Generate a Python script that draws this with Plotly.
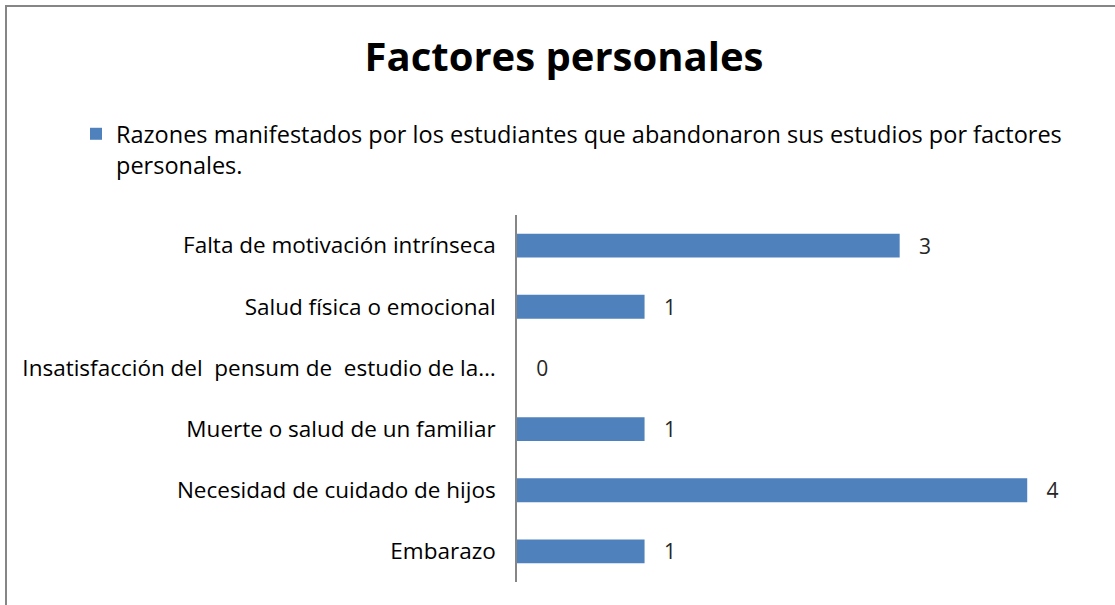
import plotly.graph_objects as go

# -------- DATA --------
categorias = [
    "Embarazo",
    "Necesidad de cuidado de hijos",
    "Muerte o salud de un familiar",
    "Insatisfacción del  pensum de  estudio de la…",
    "Salud física o emocional",
    "Falta de motivación intrínseca",
]
valores = [1, 4, 1, 0, 1, 3]
serie = "Razones manifestados por los estudiantes que abandonaron sus estudios por factores<br>personales."
titulo = "Factores personales"

W, H = 1115, 605
ml, mr, mt, mb = 517, 24, 215, 23
pw, ph = W - ml - mr, H - mt - mb
FONT = "Open Sans"


def px_x(p):
    return (p - ml) / pw


def px_y(p):
    return (H - mb - p) / ph


fig = go.Figure()
fig.add_trace(go.Bar(
    y=categorias, x=valores, orientation="h", name=serie,
    marker=dict(color="#4F81BD", line=dict(width=0)),
    text=["   " + str(v) for v in valores], textposition="outside",
    textfont=dict(size=21, color="#262626", family=FONT),
    constraintext="none", cliponaxis=False,
))

# marco del grafico
fig.add_shape(type="rect", xref="paper", yref="paper",
              x0=px_x(6), x1=px_x(W + 20), y0=px_y(H + 20), y1=px_y(6),
              line=dict(color="#868686", width=2), layer="below")

fig.update_layout(
    width=W, height=H,
    margin=dict(l=ml, r=mr, t=mt, b=mb, autoexpand=False),
    paper_bgcolor="white", plot_bgcolor="white",
    font=dict(family=FONT, size=22.5, color="#000000"),
    title=dict(text="<b>" + titulo + "</b>", x=564 / W, xanchor="center",
               y=1 - 57 / H, yanchor="middle", font=dict(size=40, family=FONT)),
    bargap=0.61,
    showlegend=True,
    legend=dict(x=px_x(76), y=px_y(112), xanchor="left", yanchor="top",
                valign="top", font=dict(size=23.5, family=FONT),
                bgcolor="rgba(0,0,0,0)"),
    xaxis=dict(range=[0, 4.5], visible=False, fixedrange=True, automargin=False),
    yaxis=dict(showline=True, linecolor="#868686", linewidth=1.5,
               ticks="", showgrid=False, ticklabelstandoff=15, automargin=False,
               tickfont=dict(size=22.5), range=[-0.5, 5.5]),
)

fig.write_html("out.html", config={"displayModeBar": False},
               post_script="document.body.style.margin='0';")
